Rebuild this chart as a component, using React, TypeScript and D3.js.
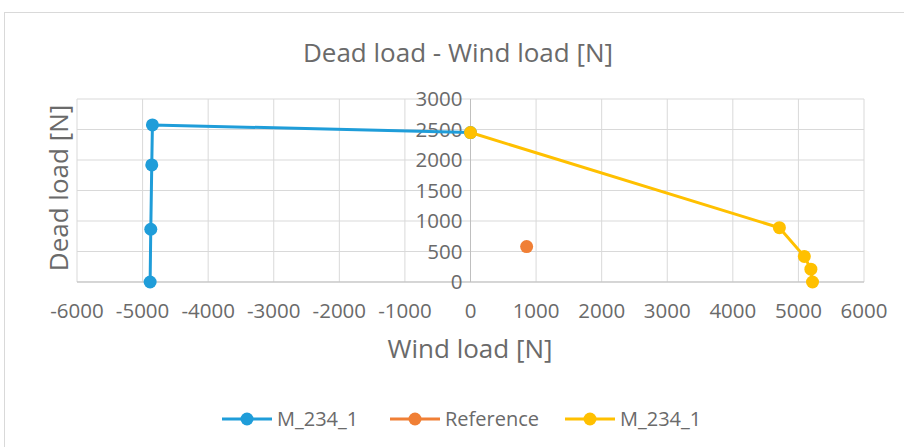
import * as d3 from "d3";

const W = 904;
const H = 447;

const xTicks = [-6000, -5000, -4000, -3000, -2000, -1000, 0, 1000, 2000, 3000, 4000, 5000, 6000];
const yTicks = [0, 500, 1000, 1500, 2000, 2500, 3000];

// left-side series (wind load, dead load)
const blueWind = [0, -4850, -4860, -4875, -4885];
const blueDead = [2450, 2575, 1920, 865, 0];

const refWind = [856];
const refDead = [580];

const yellowWind = [0, 4710, 5090, 5190, 5215];
const yellowDead = [2450, 890, 420, 210, 0];

const series = [
  { name: "M_234_1", color: "#1F9DD9", wind: blueWind, dead: blueDead, line: true },
  { name: "Reference", color: "#F07F35", wind: refWind, dead: refDead, line: false },
  { name: "M_234_1", color: "#FFC000", wind: yellowWind, dead: yellowDead, line: true },
];

const font = "'Open Sans', 'Noto Sans', sans-serif";
const textColor = "#6a6a6a";

export default function App() {
  const x = d3.scaleLinear().domain([-6000, 6000]).range([77, 864]);
  const y = d3.scaleLinear().domain([0, 3000]).range([282, 99]);
  const line = d3
    .line<[number, number]>()
    .x((d) => x(d[0]))
    .y((d) => y(d[1]));

  const legendX = [222, 390, 565];

  return (
    <svg width={W} height={H} style={{ position: "absolute", left: 0, top: 0, background: "#fff" }}>
      <rect x={4.5} y={12.5} width={910} height={440} fill="#fff" stroke="#d9d9d9" />
      <text x={458} y={62} textAnchor="middle" fontFamily={font} fontSize={26} fill={textColor}>
        Dead load - Wind load [N]
      </text>

      {/* gridlines */}
      {xTicks.map((t) => (
        <line key={"gx" + t} x1={x(t)} x2={x(t)} y1={y(3000)} y2={y(0)} stroke="#d9d9d9" strokeWidth={1} />
      ))}
      {yTicks.map((t) => (
        <line key={"gy" + t} x1={x(-6000)} x2={x(6000)} y1={y(t)} y2={y(t)} stroke="#d9d9d9" strokeWidth={1} />
      ))}
      {/* axes */}
      <line x1={x(-6000)} x2={x(6000)} y1={y(0)} y2={y(0)} stroke="#bfbfbf" />
      <line x1={x(0)} x2={x(0)} y1={y(3000)} y2={y(0)} stroke="#bfbfbf" />

      {xTicks.map((t) => (
        <text key={"tx" + t} x={x(t)} y={318} textAnchor="middle" fontFamily={font} fontSize={20.5} fill={textColor}>
          {t}
        </text>
      ))}
      {yTicks.map((t) => (
        <text key={"ty" + t} x={x(0) - 8} y={y(t) + 7} textAnchor="end" fontFamily={font} fontSize={20.5} fill={textColor}>
          {t}
        </text>
      ))}

      <text x={470} y={358} textAnchor="middle" fontFamily={font} fontSize={26} fill={textColor}>
        Wind load [N]
      </text>
      <text
        transform={`translate(68,${188}) rotate(-90)`}
        textAnchor="middle"
        fontFamily={font}
        fontSize={26}
        fill={textColor}
      >
        Dead load [N]
      </text>

      {series.map((s, i) => {
        const pts = s.wind.map((w, j) => [w, s.dead[j]] as [number, number]);
        return (
          <g key={"s" + i}>
            {s.line && <path d={line(pts) ?? ""} fill="none" stroke={s.color} strokeWidth={3} strokeLinejoin="round" />}
            {pts.map((p, j) => (
              <circle key={j} cx={x(p[0])} cy={y(p[1])} r={6.5} fill={s.color} />
            ))}
          </g>
        );
      })}

      {series.map((s, i) => (
        <g key={"l" + i} transform={`translate(${legendX[i]},419)`}>
          <line x1={0} x2={50} y1={0} y2={0} stroke={s.color} strokeWidth={3} />
          <circle cx={25} cy={0} r={6.5} fill={s.color} />
          <text x={55} y={7} fontFamily={font} fontSize={20} fill={textColor}>
            {s.name}
          </text>
        </g>
      ))}
    </svg>
  );
}
